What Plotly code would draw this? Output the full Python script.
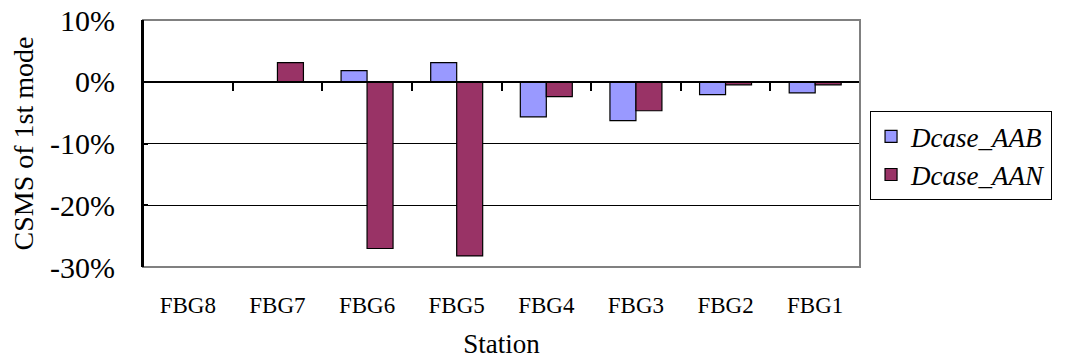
import plotly.graph_objects as go

stations = ["FBG8", "FBG7", "FBG6", "FBG5", "FBG4", "FBG3", "FBG2", "FBG1"]
dcase_aab = [0.0, 0.0, 0.018, 0.031, -0.057, -0.063, -0.021, -0.018]
dcase_aan = [0.0, 0.031, -0.270, -0.282, -0.024, -0.047, -0.005, -0.005]
y_tickvals = [0.10, 0.0, -0.10, -0.20, -0.30]
y_ticktext = ["10%", "0%", "-10%", "-20%", "-30%"]
boundaries = [0.5, 1.5, 2.5, 3.5, 4.5, 5.5, 6.5, 7.5]

FONT = "Times New Roman, Liberation Serif, serif"

fig = go.Figure()
fig.add_trace(go.Bar(x=stations, y=dcase_aab, name="Dcase_AAB",
                     marker=dict(color="#9999FF", line=dict(color="black", width=1.2))))
fig.add_trace(go.Bar(x=stations, y=dcase_aan, name="Dcase_AAN",
                     marker=dict(color="#993366", line=dict(color="black", width=1.2))))

ymin, ymax = -0.30, 0.10
zero_pos = (0 - ymin) / (ymax - ymin)

fig.update_layout(
    width=1074, height=360,
    margin=dict(l=143, r=214, t=20, b=93, autoexpand=False),
    paper_bgcolor="white", plot_bgcolor="white",
    barmode="group", bargap=0.42, bargroupgap=0,
    font=dict(family=FONT, color="black", size=24),
    showlegend=True,
    legend=dict(x=1.014, y=0.45, xanchor="left", yanchor="middle",
                bordercolor="black", borderwidth=1, bgcolor="white",
                font=dict(family=FONT, size=27, color="black", style="italic"),
                tracegroupgap=0, itemwidth=30),
    xaxis=dict(type="category", categoryorder="array", categoryarray=stations,
               range=[-0.5, 7.5], showline=False, ticks="", showgrid=False,
               automargin=False,
               tickfont=dict(family=FONT, size=23), ticklabelstandoff=22,
               title=dict(text="Station", font=dict(family=FONT, size=27), standoff=17)),
    xaxis2=dict(overlaying="x", anchor="free", position=zero_pos, range=[-0.5, 7.5],
                showline=True, linecolor="black", linewidth=1.5, automargin=False,
                tickvals=boundaries, ticks="outside", ticklen=8, tickcolor="black",
                tickwidth=1.5, showticklabels=False, showgrid=False, zeroline=False),
    yaxis=dict(range=[ymin, ymax], tickvals=y_tickvals, ticktext=y_ticktext,
               showline=True, linecolor="black", linewidth=2, automargin=False,
               ticks="inside", ticklen=5, tickcolor="black", tickwidth=1.5,
               showgrid=True, gridcolor="black", gridwidth=1,
               zeroline=True, zerolinecolor="black", zerolinewidth=2,
               tickfont=dict(family=FONT, size=30), ticklabelstandoff=20,
               title=dict(text="CSMS of 1st mode", font=dict(family=FONT, size=28), standoff=8)),
    shapes=[dict(type="rect", xref="paper", yref="paper", x0=0, x1=1, y0=0, y1=1,
                 line=dict(color="#808080", width=2), layer="above"),
            dict(type="line", xref="paper", yref="paper", x0=0, x1=0, y0=0, y1=1,
                 line=dict(color="black", width=2), layer="above")],
)

# invisible trace to activate xaxis2
fig.add_trace(go.Scatter(x=[0], y=[0], xaxis="x2", mode="markers",
                         marker=dict(opacity=0), showlegend=False, hoverinfo="skip"))

fig.write_html("out.html")
